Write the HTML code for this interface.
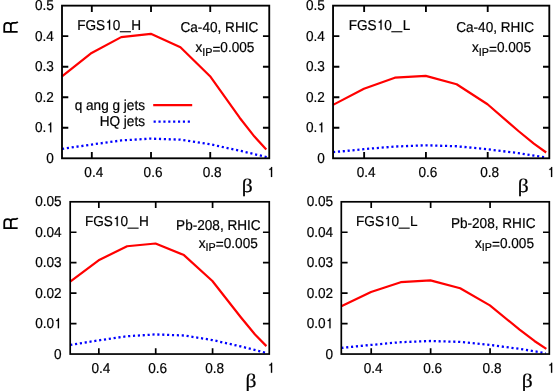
<!DOCTYPE html>
<html><head><meta charset="utf-8"><title>plot</title>
<style>
html,body{margin:0;padding:0;background:#fff;}
svg{display:block;}
text{font-family:"Liberation Sans",sans-serif;font-size:13.6px;fill:#000;text-rendering:geometricPrecision;stroke:#000;stroke-width:0.2px;}
.sym{font-family:"Liberation Serif",serif;}
.t{filter:grayscale(1);}
</style></head><body>
<svg width="560" height="391" viewBox="0 0 560 391">
<rect width="560" height="391" fill="#fff"/>

<polyline points="62.00,76.48 91.61,52.97 121.21,37.10 150.82,33.86 180.43,47.17 210.04,76.17 239.64,117.70 254.45,136.62 266.29,149.45" fill="none" stroke="#ff0000" stroke-width="2.2" stroke-linejoin="round"/>
<polyline points="62.00,148.84 91.61,144.56 121.21,140.44 150.82,138.61 180.43,139.68 210.04,144.26 239.64,150.67 266.88,157.08" fill="none" stroke="#0000ff" stroke-width="2.3" stroke-dasharray="2.15 2.73" stroke-linejoin="round"/>
<rect x="62.00" y="5.65" width="207.25" height="152.65" fill="none" stroke="#000" stroke-width="1.85"/>
<path d="M62.00 127.77h6.30 M269.25 127.77h-6.30 M62.00 97.24h6.30 M269.25 97.24h-6.30 M62.00 66.71h6.30 M269.25 66.71h-6.30 M62.00 36.18h6.30 M269.25 36.18h-6.30 M91.81 158.30v-6.30 M91.81 5.65v6.30 M151.02 158.30v-6.30 M151.02 5.65v6.30 M210.24 158.30v-6.30 M210.24 5.65v6.30" stroke="#000" stroke-width="1.85" fill="none"/>
<polyline points="333.05,104.87 363.94,88.69 394.84,77.70 425.73,75.87 456.62,84.26 487.51,104.26 518.41,130.98 533.85,143.71 546.21,152.50" fill="none" stroke="#ff0000" stroke-width="2.2" stroke-linejoin="round"/>
<polyline points="333.05,152.19 363.94,149.14 394.84,146.55 425.73,145.32 456.62,146.24 487.51,149.29 518.41,153.11 545.59,157.38" fill="none" stroke="#0000ff" stroke-width="2.3" stroke-dasharray="2.15 2.73" stroke-linejoin="round"/>
<rect x="333.05" y="5.65" width="216.25" height="152.65" fill="none" stroke="#000" stroke-width="1.85"/>
<path d="M333.05 127.77h6.30 M549.30 127.77h-6.30 M333.05 97.24h6.30 M549.30 97.24h-6.30 M333.05 66.71h6.30 M549.30 66.71h-6.30 M333.05 36.18h6.30 M549.30 36.18h-6.30 M364.14 158.30v-6.30 M364.14 5.65v6.30 M425.93 158.30v-6.30 M425.93 5.65v6.30 M487.71 158.30v-6.30 M487.71 5.65v6.30" stroke="#000" stroke-width="1.85" fill="none"/>
<polyline points="70.20,281.58 98.64,260.26 127.07,246.26 155.51,243.52 183.94,255.09 212.38,280.97 240.81,317.21 255.03,334.56 266.41,346.13" fill="none" stroke="#ff0000" stroke-width="2.2" stroke-linejoin="round"/>
<polyline points="70.20,344.92 98.64,340.35 127.07,336.24 155.51,334.41 183.94,335.48 212.38,340.04 240.81,346.44 264.98,352.53" fill="none" stroke="#0000ff" stroke-width="2.3" stroke-dasharray="2.15 2.73" stroke-linejoin="round"/>
<rect x="70.20" y="201.80" width="199.05" height="152.25" fill="none" stroke="#000" stroke-width="1.7"/>
<path d="M70.20 323.60h6.30 M269.25 323.60h-6.30 M70.20 293.15h6.30 M269.25 293.15h-6.30 M70.20 262.70h6.30 M269.25 262.70h-6.30 M70.20 232.25h6.30 M269.25 232.25h-6.30 M98.84 354.05v-5.70 M98.84 201.80v6.30 M155.71 354.05v-5.70 M155.71 201.80v6.30 M212.58 354.05v-5.70 M212.58 201.80v6.30" stroke="#000" stroke-width="1.7" fill="none"/>
<polyline points="341.30,306.24 371.01,291.93 400.73,282.19 430.44,280.36 460.16,288.28 489.87,305.33 519.59,329.69 534.44,340.96 546.33,348.87" fill="none" stroke="#ff0000" stroke-width="2.2" stroke-linejoin="round"/>
<polyline points="341.30,347.96 371.01,344.92 400.73,342.17 430.44,341.02 460.16,341.87 489.87,344.92 519.59,348.87 545.73,353.14" fill="none" stroke="#0000ff" stroke-width="2.3" stroke-dasharray="2.15 2.73" stroke-linejoin="round"/>
<rect x="341.30" y="201.80" width="208.00" height="152.25" fill="none" stroke="#000" stroke-width="1.7"/>
<path d="M341.30 323.60h6.30 M549.30 323.60h-6.30 M341.30 293.15h6.30 M549.30 293.15h-6.30 M341.30 262.70h6.30 M549.30 262.70h-6.30 M341.30 232.25h6.30 M549.30 232.25h-6.30 M371.21 354.05v-5.70 M371.21 201.80v6.30 M430.64 354.05v-5.70 M430.64 201.80v6.30 M490.07 354.05v-5.70 M490.07 201.80v6.30" stroke="#000" stroke-width="1.7" fill="none"/>
<rect x="119.80" y="31.20" width="11.1" height="1.1" fill="#000"/>
<path d="M153.2 105.2H192.2" stroke="#ff0000" stroke-width="2.2"/>
<path d="M153.6 121.6H191.6" stroke="#0000ff" stroke-width="2.3" stroke-dasharray="2.15 2.73"/>
<rect x="391.30" y="31.20" width="11.1" height="1.1" fill="#000"/>
<rect x="127.50" y="227.60" width="11.1" height="1.1" fill="#000"/>
<rect x="398.60" y="227.60" width="11.1" height="1.1" fill="#000"/>
<g class="t">
<text transform="translate(53.85,162.85) scale(1,1.055)" text-anchor="end">0</text>
<text transform="translate(34.94,132.32) scale(1,1.055)">0.</text>
<path transform="translate(46.29,132.32) scale(0.013600,-0.013918)" d="M365 0H277V505H150V568C215 572 268 605 296 709H365Z" fill="#000" stroke="#000" stroke-width="15"/>
<text transform="translate(53.85,101.79) scale(1,1.055)" text-anchor="end">0.2</text>
<text transform="translate(53.85,71.26) scale(1,1.055)" text-anchor="end">0.3</text>
<text transform="translate(53.85,40.73) scale(1,1.055)" text-anchor="end">0.4</text>
<text transform="translate(53.85,10.20) scale(1,1.055)" text-anchor="end">0.5</text>
<text transform="translate(93.81,176.90) scale(1,1.055)" text-anchor="middle">0.4</text>
<text transform="translate(153.02,176.90) scale(1,1.055)" text-anchor="middle">0.6</text>
<text transform="translate(212.24,176.90) scale(1,1.055)" text-anchor="middle">0.8</text>
<path transform="translate(267.17,176.90) scale(0.013600,-0.013918)" d="M365 0H277V505H150V568C215 572 268 605 296 709H365Z" fill="#000" stroke="#000" stroke-width="15"/>
<text class="sym" transform="translate(247.25,191.70) scale(1.08,0.96)" text-anchor="middle" style="font-size:20px" stroke="#000" stroke-width="0.3">β</text>
<text transform="translate(324.90,162.85) scale(1,1.055)" text-anchor="end">0</text>
<text transform="translate(305.99,132.32) scale(1,1.055)">0.</text>
<path transform="translate(317.34,132.32) scale(0.013600,-0.013918)" d="M365 0H277V505H150V568C215 572 268 605 296 709H365Z" fill="#000" stroke="#000" stroke-width="15"/>
<text transform="translate(324.90,101.79) scale(1,1.055)" text-anchor="end">0.2</text>
<text transform="translate(324.90,71.26) scale(1,1.055)" text-anchor="end">0.3</text>
<text transform="translate(324.90,40.73) scale(1,1.055)" text-anchor="end">0.4</text>
<text transform="translate(324.90,10.20) scale(1,1.055)" text-anchor="end">0.5</text>
<text transform="translate(366.14,176.90) scale(1,1.055)" text-anchor="middle">0.4</text>
<text transform="translate(427.93,176.90) scale(1,1.055)" text-anchor="middle">0.6</text>
<text transform="translate(489.71,176.90) scale(1,1.055)" text-anchor="middle">0.8</text>
<path transform="translate(547.22,176.90) scale(0.013600,-0.013918)" d="M365 0H277V505H150V568C215 572 268 605 296 709H365Z" fill="#000" stroke="#000" stroke-width="15"/>
<text class="sym" transform="translate(523.30,191.70) scale(1.08,0.96)" text-anchor="middle" style="font-size:20px" stroke="#000" stroke-width="0.3">β</text>
<text transform="translate(61.60,358.60) scale(1,1.055)" text-anchor="end">0</text>
<text transform="translate(35.13,328.15) scale(1,1.055)">0.0</text>
<path transform="translate(54.04,328.15) scale(0.013600,-0.013918)" d="M365 0H277V505H150V568C215 572 268 605 296 709H365Z" fill="#000" stroke="#000" stroke-width="15"/>
<text transform="translate(61.60,297.70) scale(1,1.055)" text-anchor="end">0.02</text>
<text transform="translate(61.60,267.25) scale(1,1.055)" text-anchor="end">0.03</text>
<text transform="translate(61.60,236.80) scale(1,1.055)" text-anchor="end">0.04</text>
<text transform="translate(61.60,206.35) scale(1,1.055)" text-anchor="end">0.05</text>
<text transform="translate(100.84,372.65) scale(1,1.055)" text-anchor="middle">0.4</text>
<text transform="translate(157.71,372.65) scale(1,1.055)" text-anchor="middle">0.6</text>
<text transform="translate(214.58,372.65) scale(1,1.055)" text-anchor="middle">0.8</text>
<path transform="translate(267.17,372.65) scale(0.013600,-0.013918)" d="M365 0H277V505H150V568C215 572 268 605 296 709H365Z" fill="#000" stroke="#000" stroke-width="15"/>
<text class="sym" transform="translate(250.95,387.45) scale(1.08,0.96)" text-anchor="middle" style="font-size:20px" stroke="#000" stroke-width="0.3">β</text>
<text transform="translate(333.15,358.60) scale(1,1.055)" text-anchor="end">0</text>
<text transform="translate(306.68,328.15) scale(1,1.055)">0.0</text>
<path transform="translate(325.59,328.15) scale(0.013600,-0.013918)" d="M365 0H277V505H150V568C215 572 268 605 296 709H365Z" fill="#000" stroke="#000" stroke-width="15"/>
<text transform="translate(333.15,297.70) scale(1,1.055)" text-anchor="end">0.02</text>
<text transform="translate(333.15,267.25) scale(1,1.055)" text-anchor="end">0.03</text>
<text transform="translate(333.15,236.80) scale(1,1.055)" text-anchor="end">0.04</text>
<text transform="translate(333.15,206.35) scale(1,1.055)" text-anchor="end">0.05</text>
<text transform="translate(373.21,372.65) scale(1,1.055)" text-anchor="middle">0.4</text>
<text transform="translate(432.64,372.65) scale(1,1.055)" text-anchor="middle">0.6</text>
<text transform="translate(492.07,372.65) scale(1,1.055)" text-anchor="middle">0.8</text>
<path transform="translate(547.22,372.65) scale(0.013600,-0.013918)" d="M365 0H277V505H150V568C215 572 268 605 296 709H365Z" fill="#000" stroke="#000" stroke-width="15"/>
<text class="sym" transform="translate(527.30,387.45) scale(1.08,0.96)" text-anchor="middle" style="font-size:20px" stroke="#000" stroke-width="0.3">β</text>
<path transform="translate(17.65,32.80) rotate(-90)" d="M0.9 0V-14.3M0.9 -13.4H6.9C8.9 -13.4 10 -12.2 10 -10.1C10 -8.1 8.9 -6.8 6.9 -6.8H0.9M7.3 -6.8C9.1 -6.8 10 -6.1 10 -4.6V-1.8C10 -0.9 10.4 -0.4 11.1 0.1" fill="none" stroke="#000" stroke-width="1.8"/>
<path transform="translate(17.65,229.10) rotate(-90)" d="M0.9 0V-14.3M0.9 -13.4H6.9C8.9 -13.4 10 -12.2 10 -10.1C10 -8.1 8.9 -6.8 6.9 -6.8H0.9M7.3 -6.8C9.1 -6.8 10 -6.1 10 -4.6V-1.8C10 -0.9 10.4 -0.4 11.1 0.1" fill="none" stroke="#000" stroke-width="1.8"/>
<text transform="translate(77.20,29.70) scale(1,1.055)">FGS</text>
<path transform="translate(105.16,29.70) scale(0.013600,-0.013918)" d="M365 0H277V505H150V568C215 572 268 605 296 709H365Z" fill="#000" stroke="#000" stroke-width="15"/>
<text transform="translate(112.72,29.70) scale(1,1.055)">0</text>
<text transform="translate(131.20,29.70) scale(1,1.055)">H</text>
<text transform="translate(258.30,31.90) scale(1,1.055)" text-anchor="end">Ca-40, RHIC</text>
<text transform="translate(254.40,52.10) scale(1,1.055)" text-anchor="end">x<tspan dy="3.3" style="font-size:10.8px">IP</tspan><tspan dy="-1.9">=</tspan><tspan dy="-1.4">0.005</tspan></text>
<text transform="translate(145.00,109.50) scale(1,1.055)" text-anchor="end">q ang g jets</text>
<text transform="translate(145.00,126.00) scale(1,1.055)" text-anchor="end">HQ jets</text>
<text transform="translate(348.70,29.70) scale(1,1.055)">FGS</text>
<path transform="translate(376.66,29.70) scale(0.013600,-0.013918)" d="M365 0H277V505H150V568C215 572 268 605 296 709H365Z" fill="#000" stroke="#000" stroke-width="15"/>
<text transform="translate(384.22,29.70) scale(1,1.055)">0</text>
<text transform="translate(402.70,29.70) scale(1,1.055)">L</text>
<text transform="translate(534.00,31.90) scale(1,1.055)" text-anchor="end">Ca-40, RHIC</text>
<text transform="translate(531.00,52.20) scale(1,1.055)" text-anchor="end">x<tspan dy="3.3" style="font-size:10.8px">IP</tspan><tspan dy="-1.9">=</tspan><tspan dy="-1.4">0.005</tspan></text>
<text transform="translate(84.90,226.10) scale(1,1.055)">FGS</text>
<path transform="translate(112.86,226.10) scale(0.013600,-0.013918)" d="M365 0H277V505H150V568C215 572 268 605 296 709H365Z" fill="#000" stroke="#000" stroke-width="15"/>
<text transform="translate(120.42,226.10) scale(1,1.055)">0</text>
<text transform="translate(138.90,226.10) scale(1,1.055)">H</text>
<text transform="translate(260.70,230.20) scale(1,1.055)" text-anchor="end">Pb-208, RHIC</text>
<text transform="translate(257.80,247.90) scale(1,1.055)" text-anchor="end">x<tspan dy="3.3" style="font-size:10.8px">IP</tspan><tspan dy="-1.9">=</tspan><tspan dy="-1.4">0.005</tspan></text>
<text transform="translate(356.00,226.10) scale(1,1.055)">FGS</text>
<path transform="translate(383.96,226.10) scale(0.013600,-0.013918)" d="M365 0H277V505H150V568C215 572 268 605 296 709H365Z" fill="#000" stroke="#000" stroke-width="15"/>
<text transform="translate(391.52,226.10) scale(1,1.055)">0</text>
<text transform="translate(410.00,226.10) scale(1,1.055)">L</text>
<text transform="translate(535.50,228.10) scale(1,1.055)" text-anchor="end">Pb-208, RHIC</text>
<text transform="translate(534.00,247.90) scale(1,1.055)" text-anchor="end">x<tspan dy="3.3" style="font-size:10.8px">IP</tspan><tspan dy="-1.9">=</tspan><tspan dy="-1.4">0.005</tspan></text>
</g>
</svg></body></html>
